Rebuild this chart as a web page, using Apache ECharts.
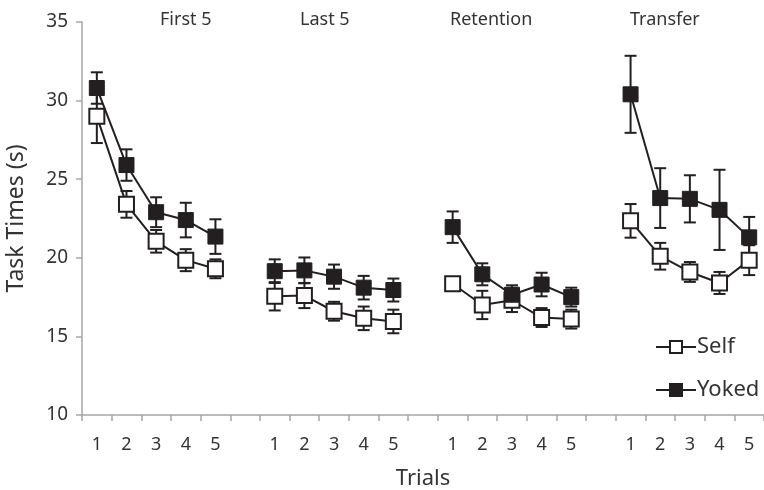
<!DOCTYPE html>
<html>
<head>
<meta charset="utf-8">
<script src="https://cdn.jsdelivr.net/npm/echarts@6/dist/echarts.min.js"></script>
<style>
  html, body { margin: 0; padding: 0; background: #fff; }
  #main { width: 764px; height: 490px; }
</style>
</head>
<body>
<div id="main"></div>
<script>
// 試行ラベル（グループ間は空のカテゴリ）
var trials = ['1','2','3','4','5','','1','2','3','4','5','','1','2','3','4','5','','1','2','3','4','5'];
var groupNames = ['First 5', 'Last 5', 'Retention', 'Transfer'];

// 平均値（null はグループ間の区切り）
var selfMean  = [29.0, 23.4, 21.05, 19.85, 19.3, null, 17.55, 17.6, 16.6, 16.15, 15.95, null, 18.35, 17.0, 17.3, 16.2, 16.1, null, 22.35, 20.1, 19.1, 18.4, 19.85];
var yokedMean = [30.8, 25.9, 22.9, 22.4, 21.35, null, 19.15, 19.2, 18.8, 18.1, 17.95, null, 21.95, 18.95, 17.65, 18.3, 17.5, null, 30.4, 23.8, 23.75, 23.05, 21.3];
// 誤差（±）
var selfErr  = [1.7, 0.85, 0.72, 0.7, 0.6, null, 0.9, 0.8, 0.6, 0.75, 0.75, null, 0.4, 0.9, 0.75, 0.6, 0.6, null, 1.07, 0.85, 0.63, 0.7, 0.95];
var yokedErr = [1.0, 1.0, 0.95, 1.1, 1.1, null, 0.75, 0.82, 0.77, 0.75, 0.73, null, 1.0, 0.7, 0.6, 0.75, 0.6, null, 2.45, 1.9, 1.5, 2.55, 1.3];

var ink = '#231f20';
var fontFamily = '"Noto Sans", "DejaVu Sans", sans-serif';

function errData(mean, err) {
    var out = [];
    for (var i = 0; i < mean.length; i++) {
        if (mean[i] == null) continue;
        out.push([i, mean[i] - err[i], mean[i] + err[i]]);
    }
    return out;
}

function renderErr(params, api) {
    var lo = api.coord([api.value(0), api.value(1)]);
    var hi = api.coord([api.value(0), api.value(2)]);
    var half = 6;
    var st = { stroke: ink, lineWidth: 2 };
    return {
        type: 'group',
        children: [
            { type: 'line', shape: { x1: lo[0], y1: lo[1], x2: hi[0], y2: hi[1] }, style: st },
            { type: 'line', shape: { x1: lo[0] - half, y1: lo[1], x2: lo[0] + half, y2: lo[1] }, style: st },
            { type: 'line', shape: { x1: hi[0] - half, y1: hi[1], x2: hi[0] + half, y2: hi[1] }, style: st }
        ]
    };
}

// グループ名の位置（ピクセル）
var groupLeft = [160, 300, 450, 630];

var chart = echarts.init(document.getElementById('main'));
chart.setOption({
    animation: false,
    textStyle: { fontFamily: fontFamily },
    grid: { left: 82, right: 0, top: 22, bottom: 75, containLabel: false, outerBoundsMode: 'none' },
    legend: {
        orient: 'vertical',
        left: 650,
        top: 331,
        itemGap: 21,
        itemWidth: 40,
        itemHeight: 15,
        data: ['Self', 'Yoked'],
        textStyle: { fontSize: 22, color: '#333', fontFamily: fontFamily, padding: [0, 0, 0, -4] }
    },
    xAxis: {
        type: 'category',
        data: trials,
        boundaryGap: true,
        name: 'Trials',
        nameLocation: 'middle',
        nameGap: 53,
        nameTextStyle: { fontSize: 22, color: '#333' },
        axisLine: { lineStyle: { color: '#a6a6a6', width: 1.5 } },
        axisTick: { show: true, interval: 0, length: 6, lineStyle: { color: '#a6a6a6', width: 1.5 } },
        axisLabel: { interval: 0, fontSize: 18, color: '#333', margin: 21 }
    },
    yAxis: {
        type: 'value',
        min: 10,
        max: 35,
        interval: 5,
        name: 'Task Times (s)',
        nameLocation: 'middle',
        nameGap: 54,
        nameTextStyle: { fontSize: 23, color: '#333' },
        splitLine: { show: false },
        axisLine: { show: true, lineStyle: { color: '#a6a6a6', width: 1.5 } },
        axisTick: { show: true, length: 6, lineStyle: { color: '#a6a6a6', width: 1.5 } },
        axisLabel: { fontSize: 19, color: '#333', margin: 14 }
    },
    series: [
        {
            name: 'SelfErr', type: 'custom', renderItem: renderErr,
            data: errData(selfMean, selfErr), z: 1, silent: true
        },
        {
            name: 'YokedErr', type: 'custom', renderItem: renderErr,
            data: errData(yokedMean, yokedErr), z: 1, silent: true
        },
        {
            name: 'Self', type: 'line', data: selfMean, connectNulls: false,
            symbol: 'rect', symbolSize: 15, z: 2,
            lineStyle: { color: ink, width: 2 },
            itemStyle: { color: '#fff', borderColor: ink, borderWidth: 2 }
        },
        {
            name: 'Yoked', type: 'line', data: yokedMean, connectNulls: false,
            symbol: 'rect', symbolSize: 15, z: 3,
            lineStyle: { color: ink, width: 2 },
            itemStyle: { color: ink, borderColor: ink, borderWidth: 1 }
        }
    ],
    graphic: groupNames.map(function (name, i) {
        return {
            type: 'text',
            left: groupLeft[i],
            top: 11,
            style: { text: name, fontSize: 18, fill: '#333', fontFamily: fontFamily }
        };
    })
});

window.addEventListener('resize', function () {
    chart.resize();
});
</script>
</body>
</html>
